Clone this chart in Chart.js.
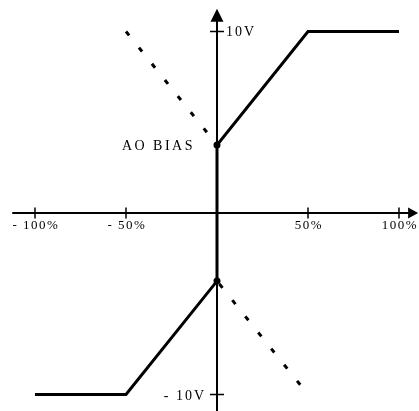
<!DOCTYPE html>
<html>
<head>
<meta charset="utf-8">
<script src="https://cdn.jsdelivr.net/npm/chart.js@4"></script>
<style>
html, body { margin: 0; padding: 0; background: #fff; }
#wrap { width: 419px; height: 411px; position: relative; }
</style>
</head>
<body>
<div id="wrap"><canvas id="myChart"></canvas></div>
<script>
// output volts vs input percent, with AO bias
const inputPct = [-100, -50, 0, 0, 50, 100];
const outputV = [-10, -10, -3.75, 3.75, 10, 10];
// dotted lines (curve without bias)
const upperDotPct = [-50, 0];
const upperDotV = [10, 3.75];
const lowerDotPct = [0, 50];
const lowerDotV = [-3.75, -10];
const biasPct = [0, 0];
const biasV = [3.75, -3.75];

const xTicks = [-100, -50, 50, 100];
const xTickLabels = ['- 100%', '- 50%', '50%', '100%'];
const yTicks = [10, -10];
const yTickLabels = ['10V', '- 10V'];
const biasLabel = 'AO BIAS';

function pts(xs, ys) { return xs.map((x, i) => ({ x: x, y: ys[i] })); }

const axesPlugin = {
    id: 'crossAxes',
    beforeDatasetsDraw(chart) {
        const ctx = chart.ctx, xs = chart.scales.x, ys = chart.scales.y;
        const x0 = xs.getPixelForValue(0), y0 = ys.getPixelForValue(0);
        const left = xs.getPixelForValue(-112.5), right = xs.getPixelForValue(110.5);
        const top = ys.getPixelForValue(11.25), bottom = chart.chartArea.bottom;
        ctx.save();
        ctx.strokeStyle = '#000';
        ctx.fillStyle = '#000';
        ctx.lineWidth = 2;
        ctx.beginPath();
        ctx.moveTo(left, y0); ctx.lineTo(right - 8, y0);
        ctx.moveTo(x0, bottom); ctx.lineTo(x0, top + 10);
        ctx.stroke();
        // tick marks
        ctx.lineWidth = 1.5;
        ctx.beginPath();
        xTicks.forEach(v => {
            const p = xs.getPixelForValue(v);
            ctx.moveTo(p, y0 - 5.5); ctx.lineTo(p, y0 + 5.5);
        });
        yTicks.forEach(v => {
            const p = ys.getPixelForValue(v);
            ctx.moveTo(x0 - 7, p); ctx.lineTo(x0 + 7, p);
        });
        ctx.stroke();
        // arrow heads
        ctx.beginPath();
        ctx.moveTo(right, y0); ctx.lineTo(right - 10, y0 - 5.5); ctx.lineTo(right - 10, y0 + 5.5);
        ctx.closePath();
        ctx.moveTo(x0, top); ctx.lineTo(x0 - 6.5, top + 13); ctx.lineTo(x0 + 6.5, top + 13);
        ctx.closePath();
        ctx.fill();
        ctx.restore();
    },
    afterDatasetsDraw(chart) {
        const ctx = chart.ctx, xs = chart.scales.x, ys = chart.scales.y;
        const x0 = xs.getPixelForValue(0), y0 = ys.getPixelForValue(0);
        ctx.save();
        ctx.fillStyle = '#000';
        ctx.textBaseline = 'alphabetic';
        ctx.font = '13px "Liberation Serif"';
        ctx.letterSpacing = '1.5px';
        ctx.textAlign = 'center';
        xTicks.forEach((v, i) => {
            ctx.fillText(xTickLabels[i], xs.getPixelForValue(v) + 1, y0 + 16);
        });
        ctx.font = '14px "Liberation Serif"';
        ctx.letterSpacing = '2px';
        ctx.textAlign = 'left';
        ctx.fillText(yTickLabels[0], x0 + 9, ys.getPixelForValue(yTicks[0]) + 4.5);
        ctx.textAlign = 'right';
        ctx.fillText(yTickLabels[1], x0 - 11, ys.getPixelForValue(yTicks[1]) + 5.5);
        ctx.letterSpacing = '2.5px';
        ctx.fillText(biasLabel, x0 - 22, ys.getPixelForValue(biasV[0]) + 5.5);
        ctx.restore();
    }
};

const ctx = document.getElementById('myChart').getContext('2d');
const myChart = new Chart(ctx, {
    type: 'scatter',
    data: {
        datasets: [{
            data: pts(inputPct, outputV),
            showLine: true,
            borderColor: '#000',
            borderWidth: 3,
            borderJoinStyle: 'miter',
            pointRadius: 0,
            tension: 0
        }, {
            data: pts(upperDotPct, upperDotV),
            showLine: true,
            borderColor: '#000',
            borderWidth: 3,
            borderDash: [5, 15.7],
            pointRadius: 0
        }, {
            data: pts(lowerDotPct, lowerDotV),
            showLine: true,
            borderColor: '#000',
            borderWidth: 3,
            borderDash: [5, 15.7],
            borderDashOffset: 16.9,
            pointRadius: 0
        }, {
            data: pts(biasPct, biasV),
            showLine: false,
            pointRadius: 3.5,
            pointBackgroundColor: '#000',
            pointBorderColor: '#000',
            pointBorderWidth: 0
        }]
    },
    options: {
        animation: false,
        responsive: true,
        maintainAspectRatio: false,
        layout: { padding: 0, autoPadding: false },
        plugins: {
            legend: { display: false },
            tooltip: { enabled: false }
        },
        scales: {
            x: { type: 'linear', display: false, min: -119.23, max: 110.99 },
            y: { type: 'linear', display: false, min: -10.909, max: 11.736 }
        }
    },
    plugins: [axesPlugin]
});
</script>
</body>
</html>
